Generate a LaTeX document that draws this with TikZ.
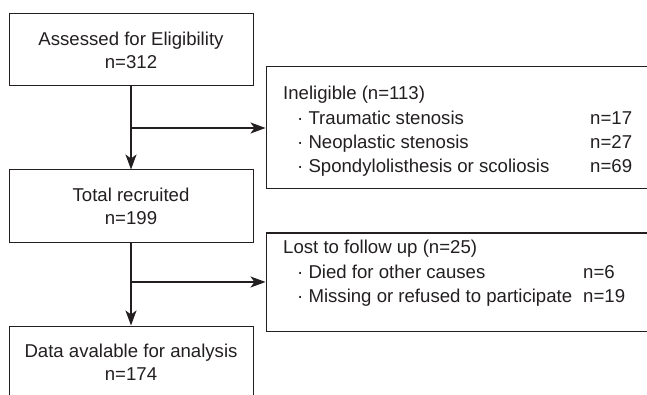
\documentclass[tikz,border=0pt]{standalone}
\usepackage{fontspec}
\setmainfont{Liberation Sans}
\usetikzlibrary{arrows.meta}
\definecolor{ink}{HTML}{231F20}
\begin{document}
\begin{tikzpicture}[x=1pt,y=-1pt,
  box/.style={draw=ink, line width=1pt, inner sep=0pt, minimum width=#1},
  txt/.style={text=ink, inner sep=0pt, font=\fontsize{18.6}{23}\selectfont},
  ctxt/.style={txt, anchor=base},
  ltxt/.style={txt, anchor=base west},
  arr/.style={draw=ink, line width=1.2pt, -{Stealth[length=15pt,width=11pt,inset=4pt]}}]
\useasboundingbox (0,0) rectangle (647,395);
\clip (0,0) rectangle (647,395);
\fill[white] (0,0) rectangle (647,395);
% left column boxes
\node[box=244pt, minimum height=72pt] (b1) at (131,50) {};
\node[box=244pt, minimum height=72pt] (b2) at (131,206) {};
\node[box=244pt, minimum height=72pt] (b3) at (131,362) {};
% right boxes (extend past right edge)
\node[box=394pt, minimum height=122pt] (inel) at (463,128) {};
\node[box=394pt, minimum height=98pt] (lost) at (463,282) {};
% texts in left boxes
\node[ctxt] (t1a) at (131,46) {Assessed for Eligibility};
\node[ctxt] (t1b) at (131,69) {n=312};
\node[ctxt] (t2a) at (131,201.5) {Total recruited};
\node[ctxt] (t2b) at (131,224.5) {n=199};
\node[ctxt] (t3a) at (131,357.5) {Data avalable for analysis};
\node[ctxt] (t3b) at (131,380.5) {n=174};
% ineligible texts
\node[ltxt] (ia) at (283,100) {Ineligible (n=113)};
\node[ltxt] (ib) at (297,124.2) {· Traumatic stenosis};
\node[ltxt] (ic) at (297,148.4) {· Neoplastic stenosis};
\node[ltxt] (id) at (297,172.6) {· Spondylolisthesis or scoliosis};
\node[ltxt] (ibn) at (590,124.2) {n=17};
\node[ltxt] (icn) at (590,148.4) {n=27};
\node[ltxt] (idn) at (590,172.6) {n=69};
% lost texts
\node[ltxt] (la) at (283,253.5) {Lost to follow up (n=25)};
\node[ltxt] (lb) at (297,278) {· Died for other causes};
\node[ltxt] (lc) at (297,302.5) {· Missing or refused to participate};
\node[ltxt] (lbn) at (583,278) {n=6};
\node[ltxt] (lcn) at (583,302.5) {n=19};
% connectors
\coordinate (j1) at (b1.south |- inel.west);
\coordinate (j2) at (b2.south |- lost.west);
\draw[arr] (b1.south) -- (b2.north);
\draw[arr] (j1) -- (inel.west);
\draw[arr] (b2.south) -- (b3.north);
\draw[arr] (j2) -- (lost.west);
\end{tikzpicture}
\end{document}
